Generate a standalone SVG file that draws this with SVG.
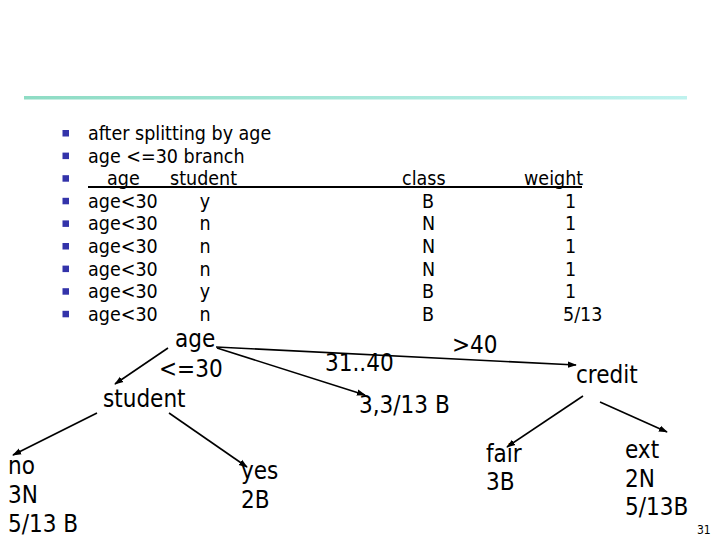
<svg xmlns="http://www.w3.org/2000/svg" width="720" height="540" viewBox="0 0 720 540">
<defs>
<linearGradient id="rule" x1="0" y1="0" x2="1" y2="0">
<stop offset="0" stop-color="#8edcc4"/>
<stop offset="1" stop-color="#bff2ee"/>
</linearGradient>
<marker id="ah" viewBox="0 0 10 10" refX="9" refY="5" markerWidth="9" markerHeight="9" markerUnits="userSpaceOnUse" orient="auto">
<path d="M0,1.5 L10,5 L0,8.5 Z" fill="#000"/>
</marker>
<style>
text{font-family:"DejaVu Sans Condensed","DejaVu Sans",sans-serif;font-stretch:condensed;fill:#000}
.t{font-size:19.5px}
.n{font-size:24px}
.s{font-size:12px}
.b{fill:#3333aa}
.c{stroke:#000;stroke-width:1.6;fill:none;marker-end:url(#ah)}
</style>
</defs>
<rect width="720" height="540" fill="#fff"/>
<rect x="24" y="96" width="663" height="3.5" fill="url(#rule)"/>
<g id="bullets">
<rect class="b" x="62.5" y="130" width="6.5" height="6.5"/>
<rect class="b" x="62.5" y="152.6" width="6.5" height="6.5"/>
<rect class="b" x="62.5" y="175.2" width="6.5" height="6.5"/>
<rect class="b" x="62.5" y="197.8" width="6.5" height="6.5"/>
<rect class="b" x="62.5" y="220.4" width="6.5" height="6.5"/>
<rect class="b" x="62.5" y="243" width="6.5" height="6.5"/>
<rect class="b" x="62.5" y="265.6" width="6.5" height="6.5"/>
<rect class="b" x="62.5" y="288.2" width="6.5" height="6.5"/>
<rect class="b" x="62.5" y="310.8" width="6.5" height="6.5"/>
</g>
<g id="table">
<text class="t" x="88" y="140">after splitting by age</text>
<text class="t" x="88" y="162.6">age &lt;=30 branch</text>
<text class="t" x="107" y="185.2">age</text>
<text class="t" x="170" y="185.2">student</text>
<text class="t" x="402" y="185.2">class</text>
<text class="t" x="524" y="185.2">weight</text>
<line x1="88" y1="187" x2="582" y2="187" stroke="#000" stroke-width="2"/>
<text class="t" x="88" y="207.8">age&lt;30</text><text class="t" x="205" y="207.8" text-anchor="middle">y</text><text class="t" x="422" y="207.8">B</text><text class="t" x="565" y="207.8">1</text>
<text class="t" x="88" y="230.4">age&lt;30</text><text class="t" x="205" y="230.4" text-anchor="middle">n</text><text class="t" x="422" y="230.4">N</text><text class="t" x="565" y="230.4">1</text>
<text class="t" x="88" y="253">age&lt;30</text><text class="t" x="205" y="253" text-anchor="middle">n</text><text class="t" x="422" y="253">N</text><text class="t" x="565" y="253">1</text>
<text class="t" x="88" y="275.6">age&lt;30</text><text class="t" x="205" y="275.6" text-anchor="middle">n</text><text class="t" x="422" y="275.6">N</text><text class="t" x="565" y="275.6">1</text>
<text class="t" x="88" y="298.2">age&lt;30</text><text class="t" x="205" y="298.2" text-anchor="middle">y</text><text class="t" x="422" y="298.2">B</text><text class="t" x="565" y="298.2">1</text>
<text class="t" x="88" y="320.8">age&lt;30</text><text class="t" x="205" y="320.8" text-anchor="middle">n</text><text class="t" x="422" y="320.8">B</text><text class="t" x="563" y="320.8">5/13</text>
</g>
<g id="connectors">
<line class="c" x1="168" y1="348" x2="115" y2="384"/>
<line class="c" x1="97" y1="413" x2="13" y2="455"/>
<line class="c" x1="169" y1="413" x2="247" y2="467"/>
<line class="c" x1="216" y1="347" x2="576" y2="365"/>
<line class="c" x1="217" y1="348" x2="365" y2="395"/>
<line class="c" x1="583" y1="396" x2="507" y2="447"/>
<line class="c" x1="600" y1="402" x2="667" y2="432"/>
</g>
<g id="node-age"><text class="n" x="175" y="347">age</text></g>
<g id="label-le30"><text class="n" x="159" y="377">&lt;=30</text></g>
<g id="node-student"><text class="n" x="103" y="407">student</text></g>
<g id="node-no"><text class="n" x="8" y="474">no</text><text class="n" x="8" y="503">3N</text><text class="n" x="8" y="532">5/13 B</text></g>
<g id="node-yes"><text class="n" x="241" y="479">yes</text><text class="n" x="241" y="508">2B</text></g>
<g id="label-3140"><text class="n" x="325" y="371">31..40</text></g>
<g id="label-gt40"><text class="n" x="452" y="353">&gt;40</text></g>
<g id="node-mid"><text class="n" x="359" y="413">3,3/13 B</text></g>
<g id="node-credit"><text class="n" x="576" y="383">credit</text></g>
<g id="node-fair"><text class="n" x="486" y="462">fair</text><text class="n" x="486" y="490">3B</text></g>
<g id="node-ext"><text class="n" x="625" y="458">ext</text><text class="n" x="625" y="487">2N</text><text class="n" x="625" y="515">5/13B</text></g>
<g id="page"><text class="s" x="697" y="534">31</text></g>
</svg>
